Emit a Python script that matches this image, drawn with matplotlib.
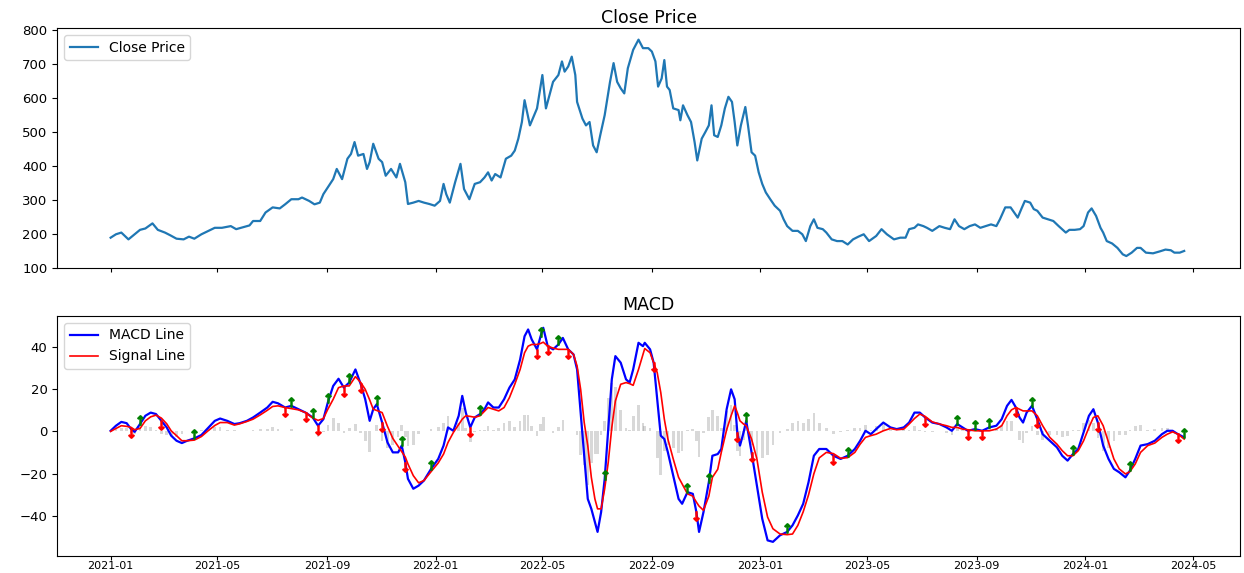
import numpy as np
import pandas as pd
import matplotlib
matplotlib.use("Agg")
import matplotlib.pyplot as plt
import matplotlib.dates as mdates

start = pd.Timestamp("2021-01-01")

# ---- Close price (days since 2021-01-01, value) ----
close_days = [0, 6, 12, 20, 27, 33, 39, 47, 53, 61, 67, 74, 82, 88, 94, 102, 110, 117, 125, 135,
              141, 149, 156, 160, 168, 174, 182, 190, 196, 203, 211, 215, 223, 229, 235, 239, 244, 250, 254, 260,
              266, 270, 274, 278, 284, 288, 291, 295, 301, 305, 309, 315, 321, 325, 331, 334, 340, 346, 352, 358,
              364, 370, 374, 377, 381, 387, 393, 397, 403, 409, 415, 420, 424, 428, 432, 438, 444, 450, 454, 458,
              462, 465, 471, 475, 479, 485, 489, 493, 497, 503, 507, 510, 514, 518, 522, 524, 530, 534, 538, 542,
              546, 550, 555, 561, 565, 569, 573, 577, 581, 587, 593, 598,
              604, 608, 612, 615, 619, 622, 625, 628, 632, 638, 640, 643, 648, 652, 656, 659, 664, 668, 672, 675,
              678, 682, 686, 690, 694, 698, 701, 704, 708, 713, 716, 720, 724, 728, 732, 736, 741, 746, 752, 756,
              760, 766, 772, 777, 781, 786, 790, 794, 800, 804, 810, 816, 822, 828, 834, 840, 846, 852, 860, 866,
              872, 880, 887, 893, 897, 903, 907, 913, 917, 923, 931, 937, 943, 948, 953, 959, 965, 971, 977, 983,
              989, 995, 999, 1005, 1011, 1015, 1019, 1023, 1027, 1033, 1037, 1041, 1047, 1053, 1059, 1065, 1073,
              1077, 1083, 1089, 1093, 1098, 1102, 1107, 1112, 1115, 1119, 1125, 1131, 1137, 1141, 1147, 1153,
              1157, 1163, 1171, 1179, 1185, 1191, 1195, 1201, 1206]
close_values = [189, 199, 204, 184, 199, 212, 216, 231, 212, 204, 196, 186, 184, 192, 186, 199, 209, 218, 218, 223,
                214, 220, 225, 238, 238, 263, 278, 275, 287, 302, 302, 307, 297, 287, 292, 317, 337, 361, 391, 361,
                421, 435, 470, 430, 435, 391, 411, 465, 421, 411, 371, 391, 366, 406, 352, 288, 292, 297, 292, 288,
                283, 297, 347, 317, 292, 352, 406, 332, 302, 347, 352, 366, 381, 357, 376, 366, 421, 430, 445, 480,
                529, 593, 519, 544, 569, 667, 569, 608, 647, 667, 707, 677, 692, 721, 667, 588, 539, 519, 529, 460,
                440, 490, 549, 647, 702, 647, 628, 613, 687, 741, 771, 746,
                746, 736, 707, 633, 657, 711, 633, 623, 569, 564, 534, 578, 549, 529, 470, 416, 480, 499, 519, 578,
                490, 485, 519, 569, 603, 588, 529, 460, 519, 573, 519, 440, 430, 381, 347, 322, 302, 283, 268, 243,
                223, 209, 209, 199, 179, 223, 243, 218, 214, 204, 184, 179, 179, 169, 184, 192, 199, 179, 194, 214,
                199, 184, 189, 189, 214, 218, 228, 223, 218, 209, 223, 218, 214, 243, 223, 214, 223, 228, 218, 223,
                228, 223, 243, 278, 278, 263, 248, 273, 297, 292, 273, 268, 248, 243, 238, 223, 204,
                212, 212, 214, 223, 263, 275, 253, 218, 204, 179, 172, 159, 140, 135, 145, 159,
                159, 145, 143, 149, 154, 152, 145, 145, 150]

# ---- MACD line and signal line (days since 2021-01-01) ----
macd_days = [0, 6, 12, 18, 23, 27, 33, 39, 45, 51, 57, 63, 68, 74, 80, 86, 94, 102, 110, 117,
             123, 131, 139, 145, 153, 160, 168, 176, 182, 188, 196, 203, 211, 219, 227, 233, 239, 244, 250, 256,
             262, 268, 275, 281, 286, 291, 295, 299, 305, 311, 317, 323, 327, 331, 334, 340, 346, 352, 360, 368,
             374, 379, 385, 391, 395, 399, 404, 409, 415, 420, 424, 430, 436, 442, 448, 454, 460, 465, 469, 473,
             479, 483, 486, 491, 497, 503, 508, 514, 520, 524, 528, 532, 536, 540, 544, 547, 551, 555, 559, 563,
             567, 573, 579, 583, 587, 593, 598,
             600, 606, 610, 614, 618, 622, 626, 632, 638, 642, 648, 654, 658, 661, 666, 672, 676, 682, 686, 692,
             697, 701, 704, 707, 711, 714, 720, 726, 732, 738, 744, 752, 760, 766, 772, 778, 784, 790, 796, 804,
             812, 820, 828, 836, 842, 848, 854, 860, 868, 876, 883, 891, 897, 903, 909, 915, 923, 931, 939, 945,
             951, 957, 963, 971, 979, 987, 995, 1001, 1007, 1012, 1017, 1021, 1025, 1029, 1035, 1041, 1047, 1055,
             1063, 1069, 1075, 1081, 1087, 1093, 1099, 1104, 1109, 1115, 1121, 1127, 1133, 1140, 1145, 1151,
             1157, 1165, 1173, 1181, 1187, 1193, 1199, 1206]
macd_values = [0.3, 2.7, 4.5, 3.9, 1.1, -0.2, 3.5, 7.4, 8.9, 8.2, 5.0, 1.9, -2.0, -4.4, -5.5, -4.4, -3.3, -1.7, 1.9, 5.0,
               6.1, 5.0, 3.5, 3.9, 5.0, 6.6, 8.9, 11.3, 14.0, 13.3, 11.3, 12.1, 10.5, 8.9, 6.6, 2.7, 5.8, 13.7, 21.5, 24.9,
               20.7, 23.1, 29.3, 22.3, 15.2, 5.0, 10.5, 12.9, 4.2, -5.2, -9.9, -9.9, -6.7, -14.6, -22.4, -27.1, -25.6, -23.2, -17.7, -13.0,
               -6.7, 1.9, 0.3, 7.4, 16.8, 8.9, 1.9, 6.6, 8.2, 10.5, 13.7, 11.3, 11.3, 15.2, 20.7, 24.6, 34.0, 45.0, 48.2, 43.5,
               38.8, 45.0, 49.0, 40.3, 38.8, 41.1, 44.2, 38.8, 36.4, 29.3, 8.9, -11.5, -31.9, -36.6, -42.8, -47.5, -38.1, -22.4, 1.1, 24.6,
               35.6, 32.5, 24.6, 23.1, 29.3, 41.9, 40.3,
               41.9, 38.8, 32.5, 15.2, -2.0, -3.6, -9.9, -20.9, -31.9, -34.2, -28.7, -29.5, -38.1, -47.5, -38.1, -24.0, -11.5, -10.7, -8.3, 10.5,
               19.9, 15.2, -0.5, -6.7, -0.5, 5.0, -9.9, -25.6, -41.3, -51.5, -52.2, -49.1, -47.5, -44.4, -39.7, -34.2, -24.0, -11.5, -8.3, -8.3,
               -11.5, -13.0, -11.5, -8.3, -4.4, 0.3, -1.3, 1.1, 4.2, 1.9, 1.1, 1.9, 4.2, 8.9, 8.9, 6.6, 4.2, 3.5, 1.9, 0.3,
               3.5, 1.9, 0.3, 1.1, 0.3, 1.9, 2.7, 5.8, 12.1, 14.9, 11.3, 6.6, 4.2, 8.9, 12.1, 5.8, -1.3, -4.4,
               -7.5, -11.5, -13.8, -10.7, -8.3, -0.5, 7.4, 10.5, 4.2, -6.7, -13.0, -17.7, -19.3, -21.7, -18.5, -13.0,
               -6.7, -6.0, -4.4, -1.3, 0.3, 0.3, -1.3, -2.8]
signal_values = [0.0, 1.4, 2.7, 2.4, 1.9, 0.8, 1.4, 5.0, 6.9, 7.7, 6.3, 3.6, 0.3, -2.0, -4.4, -4.4, -4.1, -2.4, 0.5, 2.8,
                 4.2, 4.2, 3.0, 3.6, 4.7, 5.8, 7.8, 10.0, 11.8, 12.1, 11.3, 10.8, 10.2, 8.9, 6.4, 5.2, 6.1, 10.5, 15.2, 20.7,
                 21.5, 21.5, 25.9, 23.1, 19.9, 14.9, 10.5, 9.9, 8.9, 2.4, -3.3, -7.1, -9.6, -12.1, -15.4, -20.9, -24.3, -23.2, -19.0, -14.9,
                 -10.7, -5.2, -0.5, 3.3, 5.8, 7.4, 7.1, 6.7, 7.4, 9.6, 11.3, 10.5, 9.7, 11.3, 16.0, 22.3, 29.3, 37.2, 40.3, 41.1,
                 41.1, 41.6, 42.2, 40.3, 39.4, 38.8, 38.8, 38.8, 36.4, 30.9, 19.9, 4.2, -6.7, -21.7, -31.9, -36.6, -36.6, -27.1, -14.6, 1.9,
                 14.4, 22.3, 23.1, 22.6, 21.8, 29.3, 36.4,
                 39.2, 37.2, 32.5, 27.8, 18.4, 5.8, -3.6, -13.0, -21.7, -24.8, -29.5, -30.6, -33.4, -35.3, -37.3, -30.6, -21.7, -17.9, -9.9, 0.8,
                 7.4, 12.1, 8.9, 5.0, 3.5, 2.7, -3.6, -13.0, -28.7, -40.5, -46.0, -48.5, -48.8, -48.5, -44.4, -38.0, -30.0, -20.0, -12.5, -9.9,
                 -10.5, -12.7, -12.4, -9.9, -6.0, -2.8, -2.0, -1.3, 0.3, 1.4, 0.8, 1.1, 3.5, 6.1, 8.2, 7.1, 4.5, 3.5, 2.7, 1.9,
                 1.9, 1.1, 0.8, 0.3, 0.3, 0.3, 1.1, 2.7, 7.4, 10.2, 11.3, 10.5, 9.7, 9.7, 9.7, 7.4, 2.7, -2.8,
                 -6.0, -9.1, -11.5, -11.5, -9.1, -4.4, 1.9, 6.6, 7.4, 2.7, -5.2, -13.0, -17.7, -20.1, -19.0, -15.4,
                 -9.9, -6.7, -5.5, -2.8, -1.3, -0.2, -1.3, -3.6]

close_dates = start + pd.to_timedelta(close_days, unit="D")
macd_dates = start + pd.to_timedelta(macd_days, unit="D")
macd = np.array(macd_values)
sig = np.array(signal_values)
hist = macd - sig

# crossover signals
above = macd > sig
buy = np.where(above[1:] & ~above[:-1])[0] + 1
sell = np.where(~above[1:] & above[:-1])[0] + 1

fig, (ax1, ax2) = plt.subplots(2, 1, figsize=(12.44, 5.73), dpi=100, sharex=True)
fig.subplots_adjust(left=0.046, right=0.997, top=0.951, bottom=0.03, hspace=0.2)

ax1.plot(close_dates, close_values, color="#1f77b4", lw=1.6, label="Close Price")
ax1.set_title("Close Price", fontsize=12.5, pad=4)
ax1.legend(loc="upper left", fontsize=10)
ax1.set_ylim(100, 805)
ax1.set_yticks(range(100, 801, 100))

ax2.bar(macd_dates, hist, width=3, color="gray", alpha=0.3)
ax2.plot(macd_dates, macd, color="blue", lw=1.6, label="MACD Line")
ax2.plot(macd_dates, sig, color="red", lw=1.2, label="Signal Line")
ax2.scatter(macd_dates[buy], macd[buy] + 2, marker=r"$\uparrow$", color="green", s=45, zorder=5)
ax2.scatter(macd_dates[sell], macd[sell] - 2, marker=r"$\downarrow$", color="red", s=45, zorder=5)
ax2.set_title("MACD", fontsize=12.5, pad=4)
ax2.legend(loc="upper left", fontsize=10)
ax2.set_ylim(-58.8, 54.6)
ax2.set_yticks([-40, -20, 0, 20, 40])

ax2.set_xlim(start - pd.Timedelta(days=60), start + pd.Timedelta(days=1269))
ax2.xaxis.set_major_locator(mdates.MonthLocator(bymonth=[1, 5, 9]))
ax2.xaxis.set_major_formatter(mdates.DateFormatter("%Y-%m"))
for ax in (ax1, ax2):
    ax.tick_params(axis="y", labelsize=9.5)
    ax.tick_params(axis="x", labelsize=8, length=3, pad=1)

fig.savefig("out.png", dpi=100)
